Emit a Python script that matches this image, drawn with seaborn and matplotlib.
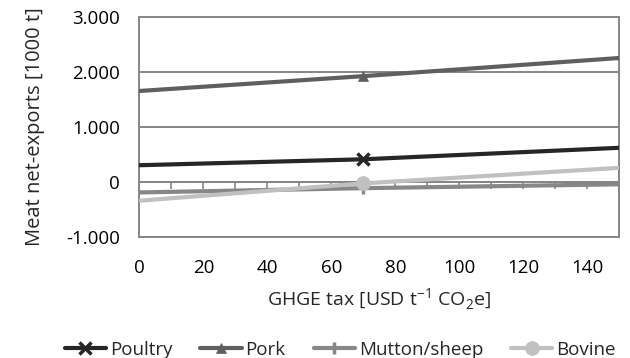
import matplotlib
matplotlib.use("Agg")
import matplotlib.pyplot as plt
import matplotlib.ticker as mticker
import seaborn as sns
import pandas as pd

tax = [0, 70, 150]
poultry = [305, 413, 622]
pork = [1655, 1925, 2255]
mutton = [-190, -112, -42]
bovine = [-340, -25, 258]

series_names = ["Poultry", "Pork", "Mutton/sheep", "Bovine"]
series_values = [poultry, pork, mutton, bovine]
colors = ["#262626", "#5f5f5f", "#878787", "#c0c0c0"]
markers = ["x", "^", "|", "o"]
msizes = [9, 7, 9, 10]

yticks = [-1000, 0, 1000, 2000, 3000]
xticks = [0, 20, 40, 60, 80, 100, 120, 140]

sns.set_theme(style="white")
plt.rcParams["font.family"] = ["Open Sans", "DejaVu Sans"]
plt.rcParams["mathtext.fontset"] = "custom"
plt.rcParams["mathtext.rm"] = "Open Sans"

FS = 13.5

fig = plt.figure(figsize=(6.3, 3.58), dpi=100)
ax = fig.add_axes([0.2214, 0.338, 0.7619, 0.6145])

gray = "#868686"
for y in yticks:
    ax.axhline(y, color=gray, lw=1.4, zorder=1)

for name, vals, c, m, ms in zip(series_names, series_values, colors, markers, msizes):
    df = pd.DataFrame({"tax": tax, "val": vals})
    sns.lineplot(data=df, x="tax", y="val", ax=ax, color=c, lw=3.0,
                 marker=m, markersize=ms, markevery=[1],
                 markeredgewidth=2.5 if m in ("x", "|") else 0.5,
                 markeredgecolor=c, label=name, zorder=3)

ax.set_xlim(0, 150)
ax.set_ylim(-1000, 3000)
ax.set_xticks(xticks)
ax.set_yticks(yticks)
ax.yaxis.set_major_formatter(mticker.FuncFormatter(
    lambda v, p: "0" if v == 0 else f"{int(v):,}".replace(",", ".")))
ax.tick_params(axis="both", length=0, labelsize=FS, colors="#000000")
ax.tick_params(axis="x", pad=16)
ax.tick_params(axis="y", pad=14)
for s in ax.spines.values():
    s.set_color(gray)
    s.set_linewidth(1.4)

sec = ax.secondary_xaxis(0.25)
sec.set_xticks(list(range(0, 151, 10)))
sec.tick_params(axis="x", direction="out", length=5, width=1.2, color=gray, labelbottom=False)
sec.spines["bottom"].set_color(gray)
sec.spines["bottom"].set_linewidth(1.4)

ax.set_xlabel("GHGE tax [USD t$^{-1}$ CO$_2$e]", fontsize=14, labelpad=7)
ax.set_ylabel("Meat net-exports [1000 t]", fontsize=14.5, labelpad=15)

ax.get_legend().remove()
h, l = ax.get_legend_handles_labels()
fig.legend(h, l, loc="lower center", bbox_to_anchor=(0.54, -0.05), ncol=4, frameon=False,
           fontsize=FS, handlelength=2.2, handletextpad=0.2, columnspacing=1.5)

fig.savefig("out.png", dpi=100)
